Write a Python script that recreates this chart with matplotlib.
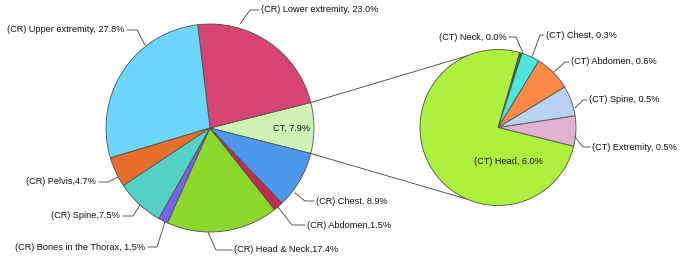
import numpy as np
import matplotlib.pyplot as plt

plt.rcParams['font.family'] = ['Liberation Sans', 'DejaVu Sans']

# main pie (CR exams + CT total)
main_labels = ['CT, 7.9%', '(CR) Lower extremity, 23.0%', '(CR) Upper extremity, 27.8%',
               '(CR) Pelvis,4.7%', '(CR) Spine,7.5%', '(CR) Bones in the Thorax, 1.5%',
               '(CR) Head & Neck,17.4%', '(CR) Abdomen,1.5%', '(CR) Chest, 8.9%']
main_values = [7.9, 23.0, 27.8, 4.7, 7.5, 1.5, 17.4, 1.5, 8.9]
main_colors = ['#cdf4b3', '#d6446f', '#6dd7fb', '#e86f2b', '#55d2c8', '#7a62ef',
               '#8bd72b', '#c52a50', '#4d97ee']

# CT breakdown pie
ct_labels = ['(CT) Extremity, 0.5%', '(CT) Spine, 0.5%', '(CT) Abdomen, 0.6%',
             '(CT) Chest, 0.3%', '(CT) Neck, 0.0%', '(CT) Head, 6.0%']
ct_values = [0.5, 0.5, 0.6, 0.3, 0.04, 6.0]
ct_colors = ['#e2b2d2', '#b6d4f1', '#fb8a48', '#4ee6df', '#1f7a3c', '#adf03d']

W, H = 683, 261
fig = plt.figure(figsize=(W / 100, H / 100), dpi=100)
ax = fig.add_axes([0, 0, 1, 1])

def Y(y):
    return H - y

c1, r1 = (210, Y(128)), 104
c2, r2 = (498, Y(127.5)), 78
wp = dict(edgecolor='#505050', linewidth=0.6)

start1 = -main_values[0] / sum(main_values) * 180
w1, _ = ax.pie(main_values, colors=main_colors, center=c1, radius=r1,
               startangle=start1, counterclock=True, wedgeprops=wp, frame=True)
w2, _ = ax.pie(ct_values, colors=ct_colors, center=c2, radius=r2,
               startangle=-14, counterclock=True, wedgeprops=wp, frame=True)
ax.set_xlim(0, W)
ax.set_ylim(0, H)
ax.set_aspect('equal')
ax.axis('off')

# connector lines from CT slice to the secondary pie
ct = w1[0]
for a1, a2 in [(ct.theta2, 113), (ct.theta1, -113)]:
    p1 = (c1[0] + r1 * np.cos(np.radians(a1)), c1[1] + r1 * np.sin(np.radians(a1)))
    p2 = (c2[0] + r2 * np.cos(np.radians(a2)), c2[1] + r2 * np.sin(np.radians(a2)))
    ax.plot([p1[0], p2[0]], [p1[1], p2[1]], color='#404040', lw=0.6, zorder=0)

fs = 6.6
lc = '#404040'
tc = '#111111'

# outside labels: (text, text x, text y, ha, leader points)
outside = [
    (main_labels[1], 261, 10, 'left', [(240, 24), (250, 10), (259, 10)]),
    (main_labels[2], 124, 30, 'right', [(145, 45), (137, 30), (127, 30)]),
    (main_labels[3], 96, 182, 'right', [(118, 177), (108, 182), (99, 182)]),
    (main_labels[4], 120, 216, 'right', [(140, 205), (133, 216), (123, 216)]),
    (main_labels[5], 145, 247, 'right', [(165, 222), (157, 247), (148, 247)]),
    (main_labels[6], 234, 250, 'left', [(208, 232), (216, 250), (232, 250)]),
    (main_labels[7], 307, 225, 'left', [(278, 207), (292, 225), (305, 225)]),
    (main_labels[8], 316, 201, 'left', [(295, 193), (305, 201), (314, 201)]),
    (ct_labels[4], 507, 37, 'right', [(523, 53), (516, 37), (509, 37)]),
    (ct_labels[3], 546, 35, 'left', [(532, 57), (540, 35), (544, 35)]),
    (ct_labels[2], 571, 62, 'left', [(554, 72), (565, 62), (569, 62)]),
    (ct_labels[1], 589, 100, 'left', [(575, 108), (583, 100), (587, 100)]),
    (ct_labels[0], 592, 147, 'left', [(575, 137), (583, 147), (590, 147)]),
]
for txt, tx, ty, ha, pts in outside:
    xs = [p[0] for p in pts]
    ys = [Y(p[1]) for p in pts]
    ax.plot(xs, ys, color=lc, lw=0.6)
    ax.text(tx, Y(ty), txt, ha=ha, va='center', fontsize=fs, color=tc)

# inside labels
ax.text(292, Y(128), main_labels[0], ha='center', va='center', fontsize=fs, color=tc)
ax.text(508, Y(162), ct_labels[5], ha='center', va='center', fontsize=fs, color=tc)

fig.savefig('out.png', dpi=100, facecolor='white')
